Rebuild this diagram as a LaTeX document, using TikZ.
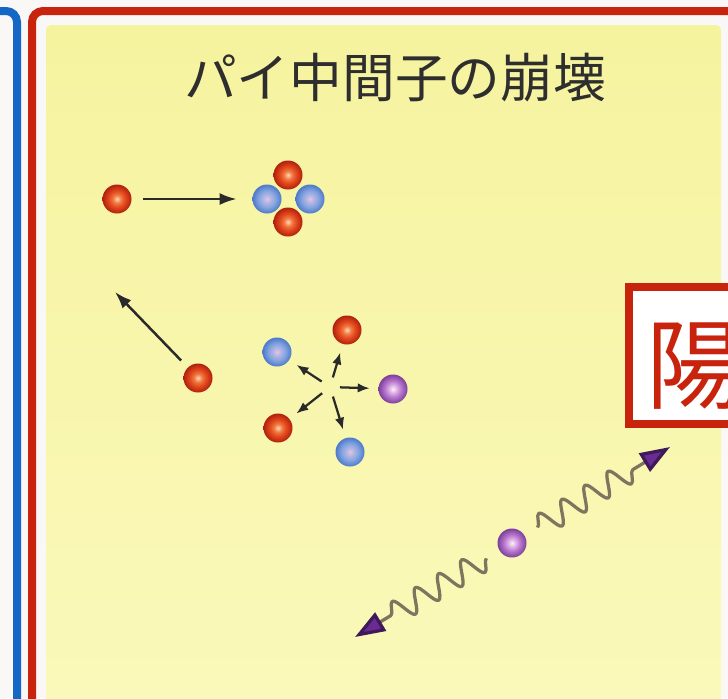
\documentclass[tikz,border=0pt]{standalone}
\usepackage{fontspec}
\setmainfont{Noto Sans CJK JP}
\usetikzlibrary{arrows.meta,decorations.pathmorphing}
\definecolor{PageWhite}{HTML}{FAF7F7}
\definecolor{PanelYellow}{HTML}{F6F39F}
\definecolor{PanelPale}{HTML}{FAF9BA}
\definecolor{FrameRed}{HTML}{C8230C}
\definecolor{FrameBlue}{HTML}{1467C4}
\definecolor{TitleInk}{HTML}{2E2E2E}
\definecolor{ArrowInk}{HTML}{2A2A2A}
\definecolor{WaveInk}{HTML}{7E7560}
\definecolor{TipPurple}{HTML}{6A2C92}
\definecolor{TipInk}{HTML}{3E1A5A}
\definecolor{RedCore}{HTML}{FCD9B0}
\definecolor{RedMid}{HTML}{F07A45}
\definecolor{RedBody}{HTML}{E44A1C}
\definecolor{RedRim}{HTML}{B0200F}
\definecolor{BlueCore}{HTML}{E4C4E0}
\definecolor{BlueMid}{HTML}{B0B4E4}
\definecolor{BlueBody}{HTML}{88A6E0}
\definecolor{BlueRim}{HTML}{4C7ACB}
\definecolor{VioletCore}{HTML}{FCF0FB}
\definecolor{VioletMid}{HTML}{DDB0E4}
\definecolor{VioletBody}{HTML}{B878CE}
\definecolor{VioletRim}{HTML}{7C3F9B}

% glowing particle fills (circle edge sits at 25bp)
\pgfdeclareradialshading{redglow}{\pgfpointorigin}{color(0bp)=(RedCore); color(7bp)=(RedMid); color(14bp)=(RedBody); color(25bp)=(RedRim); color(50bp)=(RedRim)}
\pgfdeclareradialshading{blueglow}{\pgfpointorigin}{color(0bp)=(BlueCore); color(7bp)=(BlueMid); color(14bp)=(BlueBody); color(25bp)=(BlueRim); color(50bp)=(BlueRim)}
\pgfdeclareradialshading{violetglow}{\pgfpointorigin}{color(0bp)=(VioletCore); color(7bp)=(VioletMid); color(14bp)=(VioletBody); color(25bp)=(VioletRim); color(50bp)=(VioletRim)}

\begin{document}
\begin{tikzpicture}[
    particle/.style={circle, inner sep=0pt, minimum size=0.58cm},
    red pion/.style={particle, shading=redglow},
    blue pion/.style={particle, shading=blueglow},
    violet pion/.style={particle, shading=violetglow},
    push/.style={-{Latex[length=3.4mm,width=2.4mm]},
                 draw=ArrowInk, line width=0.05cm},
    kick/.style={-{Latex[length=2.4mm,width=1.9mm]},
                 draw=ArrowInk, line width=0.045cm,
                 shorten <=0.2cm, shorten >=0.17cm},
    photon/.style={draw=WaveInk, line width=0.065cm, line join=round, decorate,
                   decoration={snake, amplitude=0.23cm, segment length=0.54cm,
                               pre=moveto, pre length=0.3cm, post length=0.66cm},
                   -{Triangle[length=6mm,width=4.2mm,fill=TipPurple,color=TipInk]}}
]
    \useasboundingbox (0,0) rectangle (14.56,-13.96);
    \fill[PageWhite] (0,0) rectangle (14.56,-13.96);

    % side frames and the yellow panel
    \draw[FrameBlue, line width=0.16cm, rounded corners=0.22cm]
        (-1,-0.22) -- (0.34,-0.22) -- (0.34,-15);
    \draw[FrameRed, line width=0.16cm, rounded corners=0.22cm]
        (0.64,-15) -- (0.64,-0.22) -- (15.5,-0.22);
    \shade[top color=PanelYellow, bottom color=PanelPale, rounded corners=0.1cm]
        (0.92,-0.5) rectangle (14.42,-14.3);

    \node[font=\fontsize{30pt}{36pt}\selectfont, text=TitleInk] (title)
        at (7.9,-1.56) {パイ中間子の崩壊};

    % capture into the nucleus
    \node[red pion] (n1) at (2.34,-3.98) {};
    \node[red pion] (c1) at (5.76,-3.50) {};
    \node[blue pion] (c2) at (5.34,-3.98) {};
    \node[blue pion] (c3) at (6.20,-3.98) {};
    \node[red pion] (c4) at (5.76,-4.44) {};
    \draw[push, shorten <=0.23cm, shorten >=0.31cm] (n1) -- (c2);

    % nucleus blown apart
    \node[red pion] (n2) at (3.96,-7.56) {};
    \coordinate (fly) at (2.30,-5.84);
    \draw[push, shorten <=0.19cm] (n2) -- (fly);

    \coordinate (burst) at (6.60,-7.74);
    \node[blue pion] (b1) at (5.54,-7.04) {};
    \node[red pion] (b2) at (6.94,-6.60) {};
    \node[violet pion] (b3) at (7.86,-7.78) {};
    \node[blue pion] (b4) at (7.00,-9.04) {};
    \node[red pion] (b5) at (5.56,-8.56) {};
    \foreach \b in {b1,b2,b3,b4,b5} {
        \draw[kick] (burst) -- (\b);
    }

    % neutral pion into two photons
    \node[violet pion] (pz) at (10.24,-10.86) {};
    \coordinate (lowtip) at (7.10,-12.74);
    \coordinate (hightip) at (13.40,-8.94);
    \draw[photon] (pz) -- (lowtip);
    \draw[photon] (pz) -- (hightip);

    \node[draw=FrameRed, line width=0.16cm, fill=white,
          minimum width=2.68cm, minimum height=2.74cm] (yangbox)
        at (13.92,-7.11) {};
    \node[font=\fontsize{56pt}{60pt}\selectfont, text=FrameRed] (yang)
        at (13.92,-7.32) {陽};
\end{tikzpicture}
\end{document}
